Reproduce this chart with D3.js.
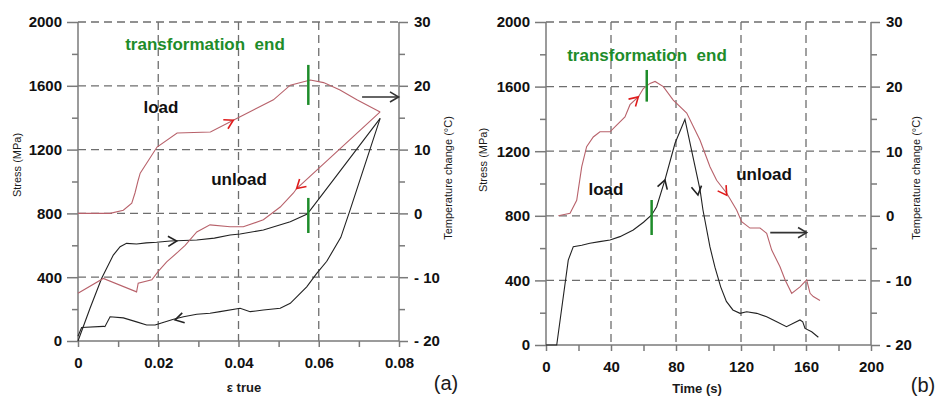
<!DOCTYPE html>
<html>
<head>
<meta charset="utf-8">
<style>
  body { margin: 0; background: #fff; }
  svg text { font-family: "Liberation Sans", Arial, sans-serif; }
  .tick-label { font-size: 15px; font-weight: bold; fill: #111; }
  .grid { stroke: #6e6e6e; stroke-width: 1.3; stroke-dasharray: 8,5; }
  .frame { stroke: #7a7a7a; stroke-width: 1.5; }
  .stress { fill: none; stroke: #222; stroke-width: 1.1; }
  .temp { fill: none; stroke: #b8626b; stroke-width: 1.1; }
  .mark { stroke: #1e8c2a; stroke-width: 2.5; }
  .note { font-size: 17px; font-weight: bold; fill: #111; text-anchor: middle; }
  .green { fill: #1e8c2a; white-space: pre; }
  .label { fill: #1a1a1a; }
</style>
</head>
<body>
<svg id="chart" width="937" height="396"></svg>
<script src="https://cdn.jsdelivr.net/npm/d3@7"></script>
<script>
// ---- data ----
// panel (a): stress (MPa) vs true strain, temperature change (C) vs true strain
var aStressLoad = [[0,0],[0.003,205],[0.0059,393],[0.0088,539],[0.0105,591],[0.0121,612],[0.0146,608],
  [0.017,615],[0.0196,619],[0.023,627],[0.0296,633],[0.034,645],[0.0379,665],[0.0404,671],[0.0462,696],
  [0.0529,748],[0.057,794],[0.0579,821],[0.0636,1009],[0.0753,1396]];
var aStressUnload = [[0.0753,1396],[0.0678,821],[0.0655,650],[0.062,500],[0.0595,424],[0.057,340],
  [0.0529,236],[0.0504,205],[0.0462,194],[0.0429,184],[0.0404,205],[0.0354,184],[0.0329,174],
  [0.0296,168],[0.0263,152],[0.0238,136],[0.02,107],[0.0192,100],[0.0171,100],[0.0146,120],
  [0.0113,145],[0.008,152],[0.0067,90],[0.0063,92],[0.0009,85],[0,30]];
var aTempLoad = [[0,0],[0.008,0],[0.0113,0.5],[0.0134,1.6],[0.0142,3.2],[0.015,5.2],[0.0155,6.3],
  [0.0197,10.4],[0.0247,12.6],[0.033,12.75],[0.0387,14.6],[0.0437,16.2],[0.0487,17.8],[0.0529,20.1],
  [0.0579,20.9],[0.0612,20.5],[0.0653,19.35],[0.0695,17.8],[0.0753,15.9]];
var aTempUnload = [[0.0753,15.9],[0.0545,3.9],[0.0537,3.2],[0.0504,1],[0.0462,-1],[0.0412,-2.1],
  [0.0379,-2.1],[0.0329,-1.8],[0.0296,-2.9],[0.0267,-5],[0.025,-6],[0.0221,-7.6],[0.02,-9.1],
  [0.0184,-10.4],[0.015,-10.95],[0.0146,-12.3],[0.0063,-10.2],[0,-12.5]];

// panel (b): stress (MPa) vs time (s), temperature change (C) vs time (s)
var bStress = [[0,0],[6.6,0],[13.7,526],[16.8,609],[22,618],[27,630],[33,640],[39.4,650],[45.5,671],
  [53.7,712],[60,760],[65,805],[68.1,856],[73.2,1022],[79.4,1249],[85.5,1397],[94.8,960],[96.6,836],
  [100.9,607],[104,480],[107.5,360],[111,270],[115,217],[119.4,196],[123.5,206],[129.7,196],
  [135.8,175],[142,144],[148,113],[152.2,134],[156.3,155],[158,144],[159.4,103],[163.5,82],[167.6,48]];
var bTemp = [[7.6,0],[14.8,0.4],[18.9,2.4],[22,7.6],[25,10.7],[29.1,12.2],[33.2,13],[39.4,13],
  [43.5,14.05],[48.6,15.3],[51.7,17.2],[56.8,18.4],[59.9,19.7],[64,20.5],[67.1,20.8],[72.2,20],
  [78.3,17.9],[86.6,15.9],[94.8,11.7],[100.9,7.6],[105,5.5],[111.2,3.5],[117.3,0.9],[120.4,-0.9],
  [125.5,-1.9],[131.7,-1.9],[135.8,-2.7],[138.9,-5.3],[144,-7.9],[147.1,-9.9],[151.2,-12],
  [156.3,-11],[160.4,-9.9],[162.5,-12],[164.5,-12.5],[168.6,-13.1]];

// transformation end marks: [x, stress from, stress to]
var aMarks = [[0.0574,1480,1731],[0.0574,677,897]];
var bMarks = [[62,1507,1703],[65,681,898]];

// arrowheads: [tipX, tipY, fromX, fromY, scale, colour]
var aArrows = [[0.0246,627,0.018,620,'s','#222'],[0.0242,132,0.03,168,'s','#222'],
  [0.0387,14.6,0.033,12.75,'t','#e01c1c'],[0.0545,3.9,0.0753,15.9,'t','#e01c1c']];
var bArrows = [[56.8,18.4,51.7,17.2,'t','#e01c1c'],[73.2,1022,68.1,856,'s','#222'],
  [93.5,929,85.5,1397,'s','#222'],[111.2,3.2,105,5.5,'t','#e01c1c']];
// arrows pointing at the temperature axis: [x1, x2, temp]
var aPointer = [0.0708,0.0799,18.25];
var bPointer = [138,160.4,-2.6];

var stressTicks = [0,400,800,1200,1600,2000];
var tempTicks = [-20,-10,0,10,20,30];
var aXTicks = [0,0.02,0.04,0.06,0.08];
var bXTicks = [0,40,80,120,160,200];

var svg = d3.select('#chart');

function panel(o) {
  var g = svg.append('g');
  var x = d3.scaleLinear().domain(o.xDomain).range([o.left, o.right]);
  var y = d3.scaleLinear().domain([0, 2000]).range([o.bottom, o.top]);
  var t = d3.scaleLinear().domain([-20, 30]).range([o.bottom, o.top]);

  // dashed grid
  g.selectAll('line.hg').data(stressTicks.slice(1)).enter().append('line')
    .attr('class', 'grid').attr('x1', o.left).attr('x2', o.right)
    .attr('y1', d => y(d)).attr('y2', d => y(d));
  g.selectAll('line.vg').data(o.xTicks.slice(1, -1)).enter().append('line')
    .attr('class', 'grid').attr('x1', d => x(d)).attr('x2', d => x(d))
    .attr('y1', o.top).attr('y2', o.bottom);

  // axes
  g.append('g').attr('transform', 'translate(' + o.left + ',0)')
    .call(d3.axisLeft(y).tickValues(stressTicks).tickSize(11).tickPadding(5).tickFormat(d3.format('d')));
  g.append('g').attr('transform', 'translate(' + o.left + ',0)')
    .call(d3.axisLeft(y).tickValues(d3.range(200, 2000, 400)).tickSize(6).tickFormat(''));
  g.append('g').attr('transform', 'translate(' + o.right + ',0)')
    .call(d3.axisRight(t).tickValues(tempTicks).tickSize(9).tickPadding(6)
      .tickFormat(d => d < 0 ? '- ' + Math.abs(d) : d));
  g.append('g').attr('transform', 'translate(' + o.right + ',0)')
    .call(d3.axisRight(t).tickValues(d3.range(-15, 30, 10)).tickSize(6).tickFormat(''));
  g.append('g').attr('transform', 'translate(0,' + o.bottom + ')')
    .call(d3.axisBottom(x).tickValues(o.xTicks).tickSize(6).tickPadding(10).tickFormat(o.fmt));
  g.append('g').attr('transform', 'translate(0,' + o.bottom + ')')
    .call(d3.axisBottom(x).tickValues(o.minor).tickSize(6).tickFormat(''));
  g.selectAll('.domain').remove();
  g.selectAll('.tick line').attr('class', 'frame');
  g.selectAll('.tick text').attr('class', 'tick-label').attr('fill', null);
  g.append('line').attr('class', 'frame').attr('x1', o.left).attr('x2', o.left).attr('y1', o.top).attr('y2', o.bottom);
  g.append('line').attr('class', 'frame').attr('x1', o.right).attr('x2', o.right).attr('y1', o.top).attr('y2', o.bottom);
  g.append('line').attr('class', 'frame').attr('x1', o.left).attr('x2', o.right).attr('y1', o.bottom).attr('y2', o.bottom);

  // curves
  var ls = d3.line().x(d => x(d[0])).y(d => y(d[1]));
  var lt = d3.line().x(d => x(d[0])).y(d => t(d[1]));
  o.stress.forEach(s => g.append('path').attr('class', 'stress').attr('d', ls(s)));
  o.temp.forEach(s => g.append('path').attr('class', 'temp').attr('d', lt(s)));

  // transformation end marks
  g.selectAll('line.mk').data(o.marks).enter().append('line').attr('class', 'mark')
    .attr('x1', d => x(d[0])).attr('x2', d => x(d[0]))
    .attr('y1', d => y(d[1])).attr('y2', d => y(d[2]));

  // arrowheads
  function head(tx, ty, fx, fy, col, len) {
    var a = Math.atan2(ty - fy, tx - fx);
    var p = [a + Math.PI * 0.83, a - Math.PI * 0.83].map(b => [tx + len * Math.cos(b), ty + len * Math.sin(b)]);
    g.append('path').attr('d', 'M' + p[0] + 'L' + tx + ',' + ty + 'L' + p[1])
      .attr('fill', 'none').attr('stroke', col).attr('stroke-width', 1.6);
  }
  o.arrows.forEach(d => {
    var sc = d[4] == 's' ? y : t;
    head(x(d[0]), sc(d[1]), x(d[2]), sc(d[3]), d[5], 10);
  });
  var px1 = x(o.pointer[0]), px2 = x(o.pointer[1]), py = t(o.pointer[2]);
  g.append('line').attr('x1', px1).attr('x2', px2).attr('y1', py).attr('y2', py)
    .attr('stroke', '#333').attr('stroke-width', 1.6);
  head(px2, py, px1, py, '#333', 10);

  // texts
  g.append('text').attr('class', 'green').attr('text-anchor', 'middle')
    .attr('font-size', 17).attr('font-weight', 'bold')
    .attr('x', o.title[0]).attr('y', o.title[1]).text('transformation  end');
  o.notes.forEach(n => g.append('text').attr('class', 'note').attr('x', n[1]).attr('y', n[2]).text(n[0]));
  g.append('text').attr('class', 'label').attr('font-size', 11).attr('text-anchor', 'middle')
    .attr('transform', 'translate(' + o.yLab[0] + ',' + o.yLab[1] + ') rotate(-90)')
    .text('Stress (MPa)');
  g.append('text').attr('class', 'label').attr('font-size', 11).attr('text-anchor', 'middle')
    .attr('transform', 'translate(' + o.tLab[0] + ',' + o.tLab[1] + ') rotate(-90)')
    .text('Temperature change (°C)');
  g.append('text').attr('class', 'label').attr('font-size', 13).attr('font-weight', 'bold')
    .attr('text-anchor', 'middle').attr('x', o.xLab[0]).attr('y', o.xLab[1]).text(o.xLab[2]);
  g.append('text').attr('class', 'label').attr('font-size', 20).attr('text-anchor', 'middle')
    .attr('x', o.tag[0]).attr('y', o.tag[1]).text(o.tag[2]);
}

panel({
  left: 78, right: 399, top: 22, bottom: 341,
  xDomain: [0, 0.08], xTicks: aXTicks, minor: [0.01, 0.03, 0.05, 0.07], fmt: d => d === 0 ? '0' : d3.format('.2f')(d),
  stress: [aStressLoad, aStressUnload], temp: [aTempLoad, aTempUnload],
  marks: aMarks, arrows: aArrows, pointer: aPointer,
  title: [205, 50], notes: [['load', 161, 113], ['unload', 239, 185]],
  yLab: [21, 165], tLab: [452, 178], xLab: [244, 392, 'ε true'], tag: [446, 390, '(a)']
});
panel({
  left: 546, right: 871, top: 22, bottom: 345,
  xDomain: [0, 200], xTicks: bXTicks, minor: [20, 60, 100, 140, 180], fmt: d3.format('d'),
  stress: [bStress], temp: [bTemp],
  marks: bMarks, arrows: bArrows, pointer: bPointer,
  title: [647, 61], notes: [['load', 606, 195], ['unload', 764, 180]],
  yLab: [487, 160], tLab: [920, 178], xLab: [697, 393, 'Time  (s)'], tag: [923, 392, '(b)']
});
</script>
</body>
</html>
